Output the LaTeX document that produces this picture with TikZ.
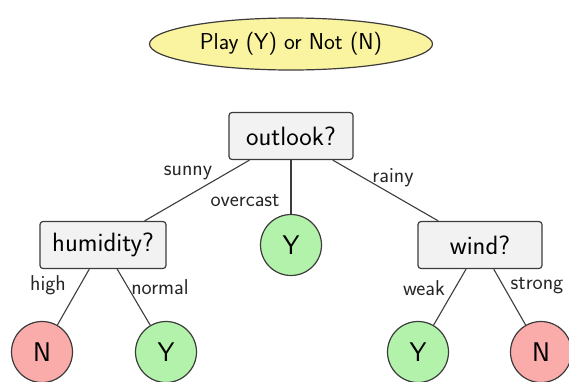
\documentclass[tikz,border=0pt]{standalone}
\usepackage{tikz}
\usetikzlibrary{shapes.geometric}
\definecolor{yfill}{RGB}{250,243,160}
\definecolor{gfill}{RGB}{242,242,242}
\definecolor{okfill}{RGB}{178,242,170}
\definecolor{nofill}{RGB}{250,172,170}
\definecolor{edgec}{RGB}{60,60,60}
\tikzset{
  every node/.style={font=\sffamily},
  qbox/.style={draw=edgec, line width=1.2pt, fill=gfill, rounded corners=3pt, minimum width=124pt, minimum height=47pt, font=\fontsize{26.5}{30}\sffamily, inner sep=0pt},
  leafy/.style={draw=edgec, line width=1.2pt, fill=okfill, circle, minimum size=61pt, inner sep=0pt, font=\fontsize{27}{30}\sffamily},
  leafn/.style={draw=edgec, line width=1.2pt, fill=nofill, circle, minimum size=61pt, inner sep=0pt, font=\fontsize{27}{30}\sffamily},
  edge/.style={draw=edgec, line width=1.1pt},
  lbl/.style={font=\fontsize{21.5}{24}\sffamily, inner sep=0pt, text=black!85}
}
\begin{document}
\begin{tikzpicture}[x=1pt,y=-1pt]
\useasboundingbox (0,0) rectangle (569,381);
\node[ellipse, draw=edgec, line width=1.2pt, fill=yfill, minimum width=283pt, minimum height=52pt, inner sep=0pt, font=\fontsize{23}{27}\sffamily] (title) at (291,44) {Play (Y) or Not (N)};
\node[qbox] (outlook) at (291,136) {outlook?};
\node[qbox, minimum width=126pt] (hum) at (103,245) {humidity?};
\node[qbox] (wind) at (480,245) {wind?};
\node[leafy] (over) at (291,245) {Y};
\node[leafn] (hn) at (42,352) {N};
\node[leafy] (hy) at (166,352) {Y};
\node[leafy] (wy) at (418,352) {Y};
\node[leafn] (wn) at (541,352) {N};
\draw[edge] (outlook) -- (hum);
\draw[edge] (outlook) -- (over);
\draw[edge] (outlook) -- (wind);
\draw[edge] (hum) -- (hn);
\draw[edge] (hum) -- (hy);
\draw[edge] (wind) -- (wy);
\draw[edge] (wind) -- (wn);
\node[lbl] (l1) at (188,173) {sunny};
\node[lbl] (l2) at (245,201) {overcast};
\node[lbl] (l3) at (393,178) {rainy};
\node[lbl] (l4) at (48,285) {high};
\node[lbl] (l5) at (160,287) {normal};
\node[lbl] (l6) at (424,288) {weak};
\node[lbl] (l7) at (537,286) {strong};
\end{tikzpicture}
\end{document}
